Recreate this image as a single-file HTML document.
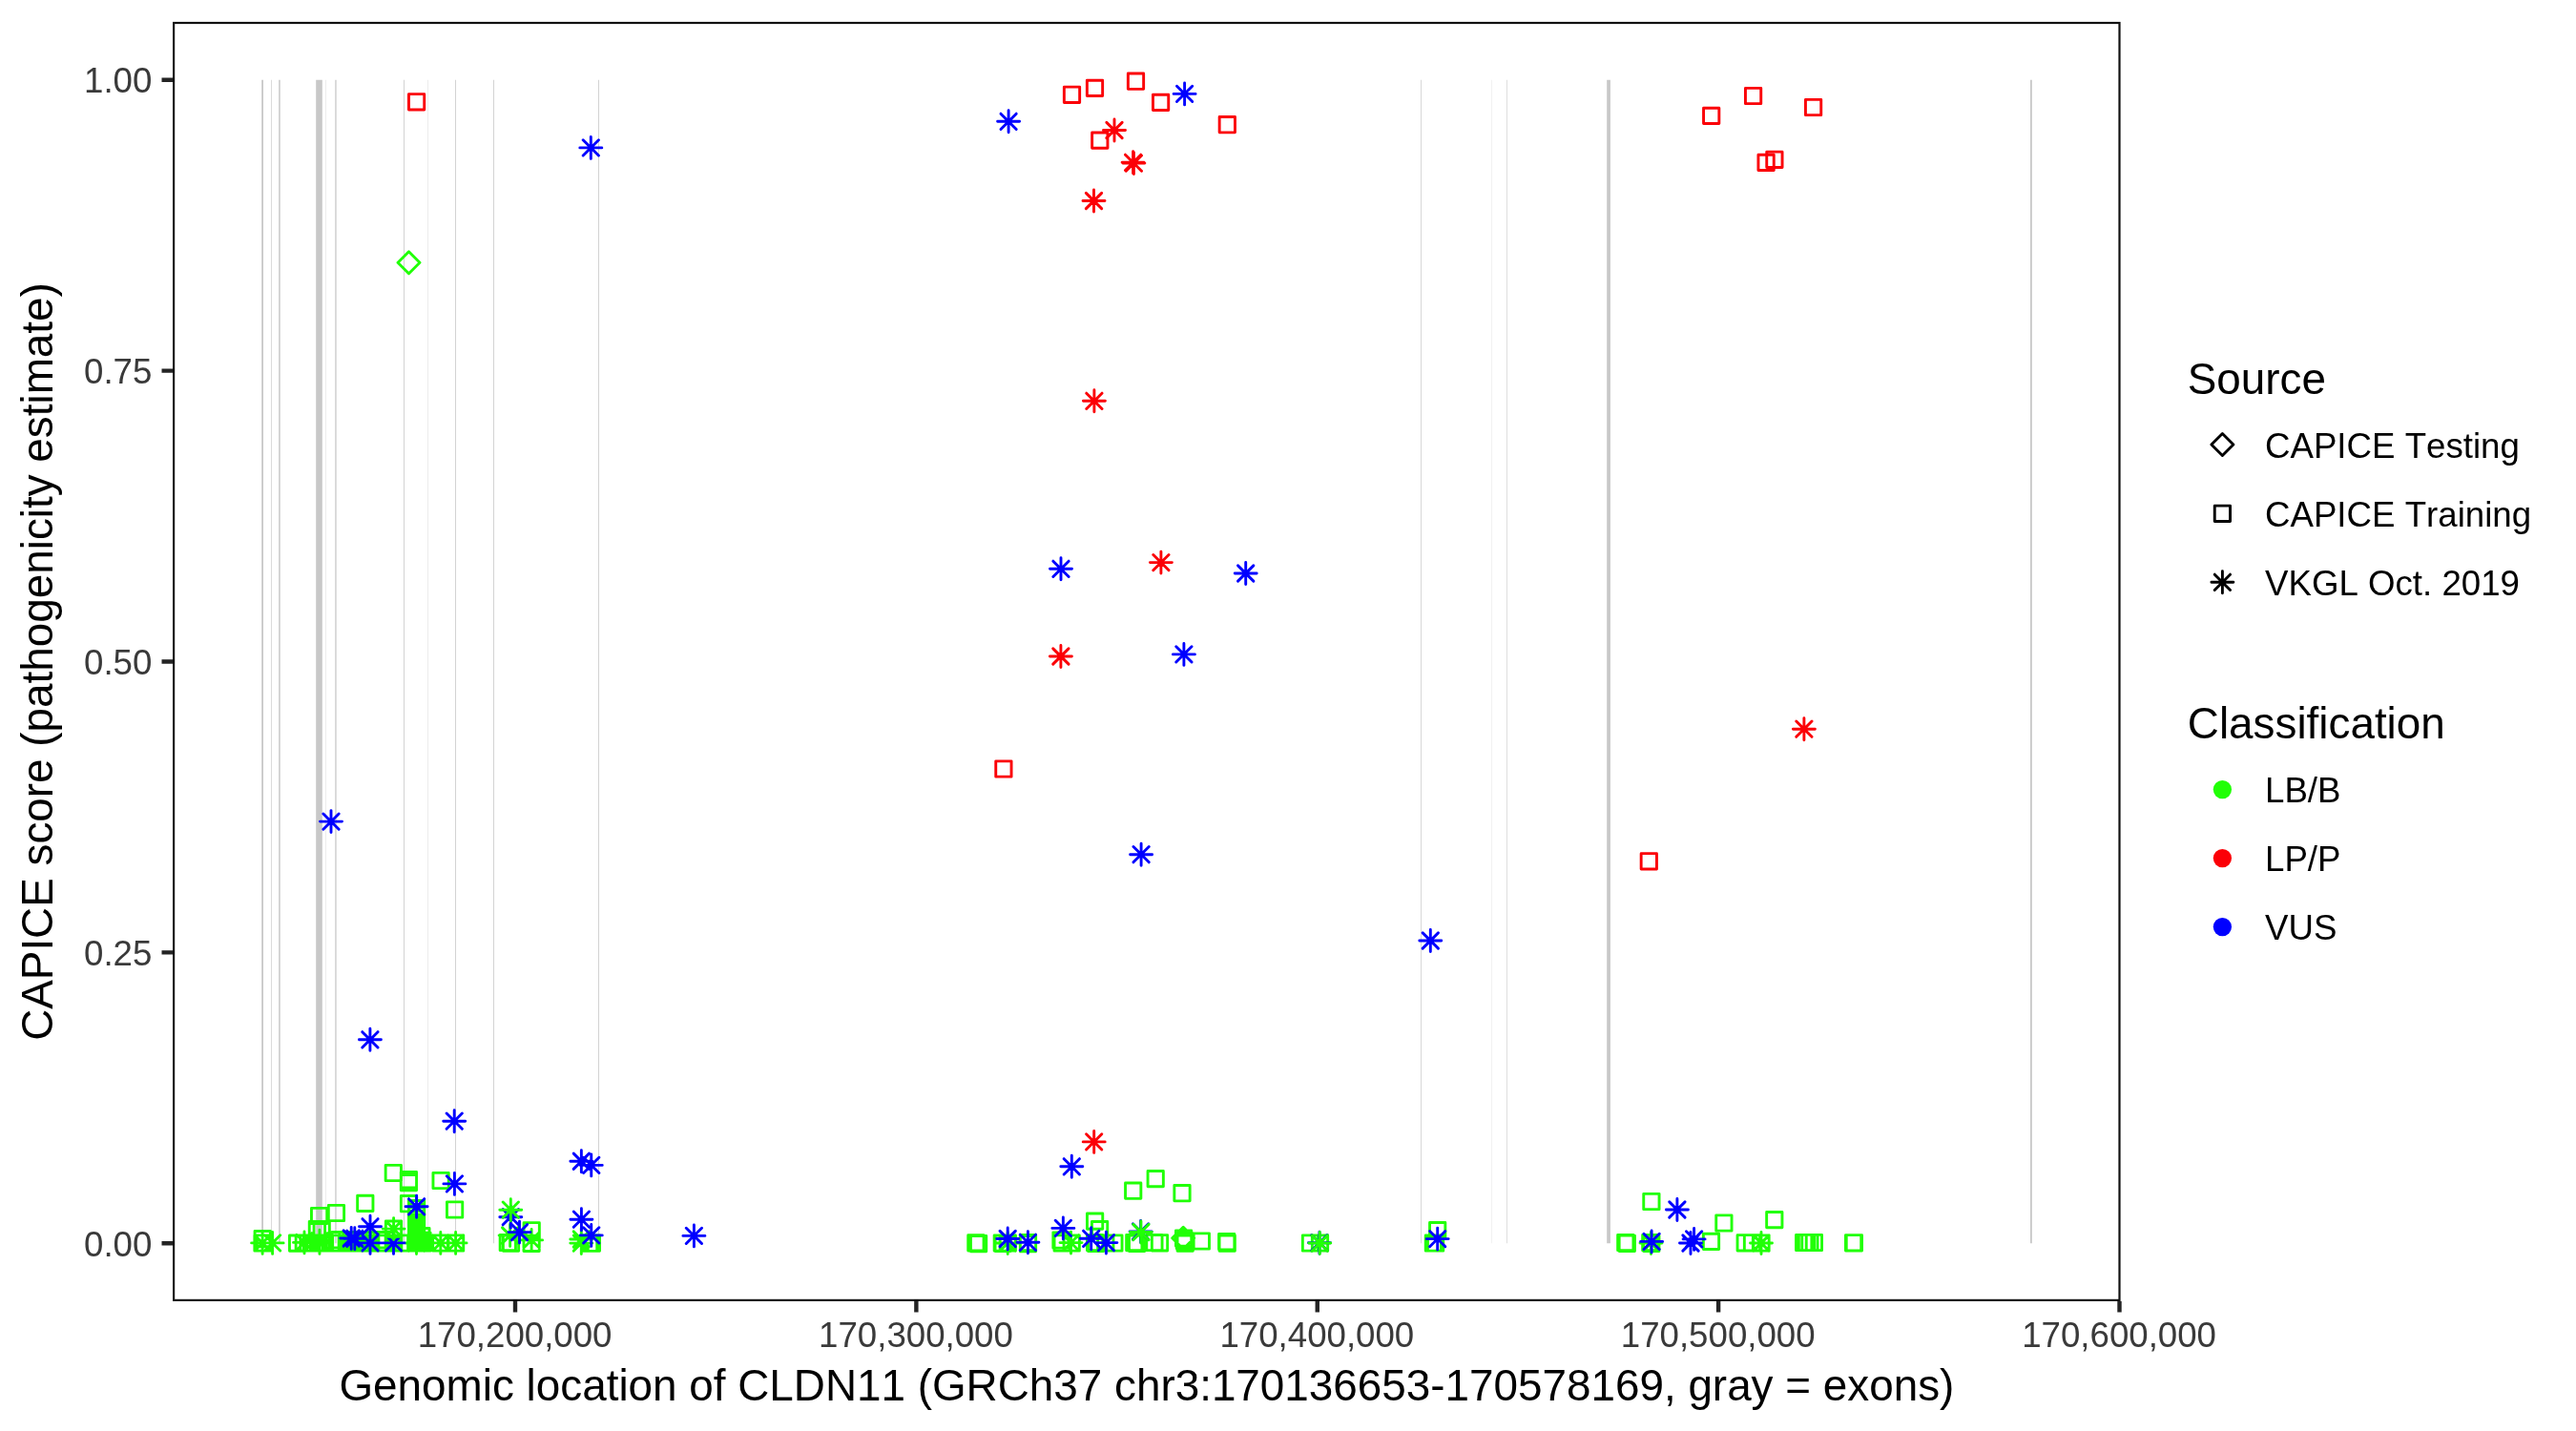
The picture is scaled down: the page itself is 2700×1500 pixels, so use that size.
<!DOCTYPE html>
<html><head><meta charset="utf-8"><title>CAPICE CLDN11</title>
<style>html,body{margin:0;padding:0;background:#fff}svg{display:block}#w{will-change:transform;width:2700px;height:1500px}text{font-family:"Liberation Sans",sans-serif;font-kerning:none}.at{font-size:36.67px;fill:#3a3a3a}.lt{font-size:36.67px;fill:#000}.ti{font-size:45.83px;fill:#000}.p{fill:none;stroke-width:2.9;stroke-linecap:round;stroke-linejoin:round}</style></head><body><div id="w">
<svg width="2700" height="1500" viewBox="0 0 2700 1500">
<rect x="0" y="0" width="2700" height="1500" fill="#ffffff"/>
<g>
<rect x="274.2" y="83.75" width="1.8" height="1219.5" fill="#c8c8c8" fill-opacity="1"/>
<rect x="284.2" y="83.75" width="0.65" height="1219.5" fill="#c8c8c8" fill-opacity="1"/>
<rect x="292.2" y="83.75" width="1.5" height="1219.5" fill="#c8c8c8" fill-opacity="1"/>
<rect x="331.2" y="83.75" width="6.6" height="1219.5" fill="#c8c8c8" fill-opacity="1"/>
<rect x="341.4" y="83.75" width="0.35" height="1219.5" fill="#c8c8c8" fill-opacity="1"/>
<rect x="351.3" y="83.75" width="1.3" height="1219.5" fill="#c8c8c8" fill-opacity="1"/>
<rect x="423.15" y="83.75" width="0.8" height="1219.5" fill="#c8c8c8" fill-opacity="1"/>
<rect x="448.4" y="83.75" width="0.35" height="1219.5" fill="#c8c8c8" fill-opacity="1"/>
<rect x="477.1" y="83.75" width="0.8" height="1219.5" fill="#c8c8c8" fill-opacity="1"/>
<rect x="517.15" y="83.75" width="0.8" height="1219.5" fill="#c8c8c8" fill-opacity="1"/>
<rect x="627.1" y="83.75" width="0.8" height="1219.5" fill="#c8c8c8" fill-opacity="1"/>
<rect x="1489.15" y="83.75" width="0.7" height="1219.5" fill="#c8c8c8" fill-opacity="1"/>
<rect x="1563.25" y="83.75" width="0.25" height="1219.5" fill="#c8c8c8" fill-opacity="1"/>
<rect x="1579.1" y="83.75" width="0.6" height="1219.5" fill="#c8c8c8" fill-opacity="1"/>
<rect x="1684.2" y="83.75" width="3.7" height="1219.5" fill="#c8c8c8" fill-opacity="1"/>
<rect x="2128" y="83.75" width="1.8" height="1219.5" fill="#c8c8c8" fill-opacity="1"/>
</g>
<g class="p">
<path stroke="#21ff06" d="M267.05 1290.45h16.3v16.3h-16.3zM266.85 1294.85h16.3v16.3h-16.3zM269.35 1294.85h16.3v16.3h-16.3zM263.6 1302.9h23M275.1 1291.4v23M266.96 1294.76l16.28 16.28M266.96 1311.04l16.28 -16.28M274.1 1302.9h23M285.6 1291.4v23M277.46 1294.76l16.28 16.28M277.46 1311.04l16.28 -16.28M303.45 1294.95h16.3v16.3h-16.3zM310.15 1294.85h16.3v16.3h-16.3zM307.5 1302.4h23M319 1290.9v23M310.86 1294.26l16.28 16.28M310.86 1310.54l16.28 -16.28M314.85 1294.85h16.3v16.3h-16.3zM318.35 1294.85h16.3v16.3h-16.3zM321.85 1294.85h16.3v16.3h-16.3zM325.35 1294.85h16.3v16.3h-16.3zM328.85 1294.85h16.3v16.3h-16.3zM332.35 1294.85h16.3v16.3h-16.3zM338.85 1294.85h16.3v16.3h-16.3zM341.85 1294.85h16.3v16.3h-16.3zM344.85 1294.85h16.3v16.3h-16.3zM347.85 1294.85h16.3v16.3h-16.3zM355.85 1294.85h16.3v16.3h-16.3zM359.35 1294.85h16.3v16.3h-16.3zM362.85 1294.85h16.3v16.3h-16.3zM366.35 1294.85h16.3v16.3h-16.3zM369.85 1294.85h16.3v16.3h-16.3zM373.35 1294.85h16.3v16.3h-16.3zM376.85 1294.85h16.3v16.3h-16.3zM380.35 1294.85h16.3v16.3h-16.3zM387.85 1294.85h16.3v16.3h-16.3zM390.85 1294.85h16.3v16.3h-16.3zM393.85 1294.85h16.3v16.3h-16.3zM396.85 1294.85h16.3v16.3h-16.3zM404.35 1294.85h16.3v16.3h-16.3zM411.35 1294.85h16.3v16.3h-16.3zM414.35 1294.85h16.3v16.3h-16.3zM417.85 1294.85h16.3v16.3h-16.3zM420.85 1294.85h16.3v16.3h-16.3zM348.05 1291.55h16.3v16.3h-16.3zM355.85 1291.55h16.3v16.3h-16.3zM359.85 1291.55h16.3v16.3h-16.3zM363.85 1291.55h16.3v16.3h-16.3zM367.85 1291.55h16.3v16.3h-16.3zM371.85 1291.55h16.3v16.3h-16.3zM375.85 1291.55h16.3v16.3h-16.3zM379.85 1291.55h16.3v16.3h-16.3zM388.35 1291.55h16.3v16.3h-16.3zM396.85 1291.55h16.3v16.3h-16.3zM429.35 1292.15h16.3v16.3h-16.3zM432.35 1292.15h16.3v16.3h-16.3zM434.85 1292.15h16.3v16.3h-16.3zM431.85 1294.85h16.3v16.3h-16.3zM434.85 1294.85h16.3v16.3h-16.3zM323.45 1302.9h23M334.95 1291.4v23M326.81 1294.76l16.28 16.28M326.81 1311.04l16.28 -16.28M323.45 1300.8h23M334.95 1289.3v23M326.81 1292.66l16.28 16.28M326.81 1308.94l16.28 -16.28M324.25 1280.35h16.3v16.3h-16.3zM329.05 1280.35h16.3v16.3h-16.3zM326.45 1266.35h16.3v16.3h-16.3zM344.3 1263.35h16.3v16.3h-16.3zM374.65 1253.25h16.3v16.3h-16.3zM404.15 1221.35h16.3v16.3h-16.3zM420.25 1228.55h16.3v16.3h-16.3zM420.25 1231.45h16.3v16.3h-16.3zM453.95 1229.35h16.3v16.3h-16.3zM420.35 1253.55h16.3v16.3h-16.3zM428.45 1258.55h16.3v16.3h-16.3zM428.45 1262.35h16.3v16.3h-16.3zM428.45 1265.85h16.3v16.3h-16.3zM428.45 1269.35h16.3v16.3h-16.3zM428.45 1272.85h16.3v16.3h-16.3zM428.45 1276.35h16.3v16.3h-16.3zM428.45 1280.35h16.3v16.3h-16.3zM428.45 1282.85h16.3v16.3h-16.3zM428.45 1285.45h16.3v16.3h-16.3zM428.45 1287.65h16.3v16.3h-16.3zM428.45 1289.85h16.3v16.3h-16.3zM428.45 1292.35h16.3v16.3h-16.3zM428.45 1294.85h16.3v16.3h-16.3zM433.75 1287.45h16.3v16.3h-16.3zM425 1303h23M436.5 1291.5v23M428.36 1294.86l16.28 16.28M428.36 1311.14l16.28 -16.28M453.65 1294.85h16.3v16.3h-16.3zM469.45 1294.85h16.3v16.3h-16.3zM468.45 1259.85h16.3v16.3h-16.3zM450.3 1302.9h23M461.8 1291.4v23M453.66 1294.76l16.28 16.28M453.66 1311.04l16.28 -16.28M466.1 1302.9h23M477.6 1291.4v23M469.46 1294.76l16.28 16.28M469.46 1311.04l16.28 -16.28"/>
<path stroke="#0000ff" d="M356.7 1298h23M368.2 1286.5v23M360.06 1289.86l16.28 16.28M360.06 1306.14l16.28 -16.28M360.3 1298.3h23M371.8 1286.8v23M363.66 1290.16l16.28 16.28M363.66 1306.44l16.28 -16.28M376.5 1285.8h23M388 1274.3v23M379.86 1277.66l16.28 16.28M379.86 1293.94l16.28 -16.28M376.5 1302.9h23M388 1291.4v23M379.86 1294.76l16.28 16.28M379.86 1311.04l16.28 -16.28M401 1302.9h23M412.5 1291.4v23M404.36 1294.76l16.28 16.28M404.36 1311.04l16.28 -16.28"/>
<path stroke="#21ff06" d="M404.35 1279.95h16.3v16.3h-16.3zM401.1 1288.1h23M412.6 1276.6v23M404.46 1279.96l16.28 16.28M404.46 1296.24l16.28 -16.28"/>
<path stroke="#0000ff" d="M425.1 1264.8h23M436.6 1253.3v23M428.46 1256.66l16.28 16.28M428.46 1272.94l16.28 -16.28M464.9 1240.9h23M476.4 1229.4v23M468.26 1232.76l16.28 16.28M468.26 1249.04l16.28 -16.28"/>
<path stroke="#21ff06" d="M524.15 1294.35h16.3v16.3h-16.3zM527.35 1295.05h16.3v16.3h-16.3zM523.1 1295h23M534.6 1283.5v23M526.46 1286.86l16.28 16.28M526.46 1303.14l16.28 -16.28M548.95 1295.15h16.3v16.3h-16.3zM549.05 1281.65h16.3v16.3h-16.3zM545.6 1299.9h23M557.1 1288.4v23M548.96 1291.76l16.28 16.28M548.96 1308.04l16.28 -16.28"/>
<path stroke="#0000ff" d="M523.8 1275.7h23M535.3 1264.2v23M527.16 1267.56l16.28 16.28M527.16 1283.84l16.28 -16.28"/>
<path stroke="#21ff06" d="M523.8 1268.2h23M535.3 1256.7v23M527.16 1260.06l16.28 16.28M527.16 1276.34l16.28 -16.28"/>
<path stroke="#0000ff" d="M533 1291.6h23M544.5 1280.1v23M536.36 1283.46l16.28 16.28M536.36 1299.74l16.28 -16.28"/>
<path stroke="#21ff06" d="M597.8 1299h23M609.3 1287.5v23M601.16 1290.86l16.28 16.28M601.16 1307.14l16.28 -16.28M597.8 1303.1h23M609.3 1291.6v23M601.16 1294.96l16.28 16.28M601.16 1311.24l16.28 -16.28M612.25 1295.05h16.3v16.3h-16.3zM609.45 1295.05h16.3v16.3h-16.3z"/>
<path stroke="#0000ff" d="M597.9 1278.2h23M609.4 1266.7v23M601.26 1270.06l16.28 16.28M601.26 1286.34l16.28 -16.28M608.25 1294.9h23M619.75 1283.4v23M611.61 1286.76l16.28 16.28M611.61 1303.04l16.28 -16.28M715.9 1295.4h23M727.4 1283.9v23M719.26 1287.26l16.28 16.28M719.26 1303.54l16.28 -16.28M597.85 1217.25h23M609.35 1205.75v23M601.21 1209.11l16.28 16.28M601.21 1225.39l16.28 -16.28M608.25 1221.4h23M619.75 1209.9v23M611.61 1213.26l16.28 16.28M611.61 1229.54l16.28 -16.28"/>
<path stroke="#fb0007" d="M428.45 98.65h16.3v16.3h-16.3z"/>
<path stroke="#0000ff" d="M607.8 154.9h23M619.3 143.4v23M611.16 146.76l16.28 16.28M611.16 163.04l16.28 -16.28M335.5 861.1h23M347 849.6v23M338.86 852.96l16.28 16.28M338.86 869.24l16.28 -16.28M376.4 1089.8h23M387.9 1078.3v23M379.76 1081.66l16.28 16.28M379.76 1097.94l16.28 -16.28M464.7 1175.2h23M476.2 1163.7v23M468.06 1167.06l16.28 16.28M468.06 1183.34l16.28 -16.28"/>
<path stroke="#21ff06" d="M417 275.3l11.5 -11.5l11.5 11.5l-11.5 11.5zM1014.75 1294.65h16.3v16.3h-16.3zM1017.45 1295.45h16.3v16.3h-16.3zM1042.15 1294.85h16.3v16.3h-16.3zM1043.05 1295.15h16.3v16.3h-16.3zM1048.15 1294.85h16.3v16.3h-16.3zM1069.35 1294.45h16.3v16.3h-16.3zM1069.35 1295.55h16.3v16.3h-16.3zM1103.85 1291.85h16.3v16.3h-16.3zM1105.05 1294.85h16.3v16.3h-16.3zM1115.05 1294.85h16.3v16.3h-16.3zM1139.45 1294.45h16.3v16.3h-16.3zM1140.45 1295.25h16.3v16.3h-16.3zM1150.65 1294.85h16.3v16.3h-16.3zM1159.75 1294.85h16.3v16.3h-16.3zM1180.65 1294.45h16.3v16.3h-16.3zM1183.45 1295.15h16.3v16.3h-16.3zM1201.75 1294.35h16.3v16.3h-16.3zM1207.35 1294.65h16.3v16.3h-16.3zM1044.7 1303h23M1056.2 1291.5v23M1048.06 1294.86l16.28 16.28M1048.06 1311.14l16.28 -16.28M1111 1302.6h23M1122.5 1291.1v23M1114.36 1294.46l16.28 16.28M1114.36 1310.74l16.28 -16.28M1228.7 1297.8l11.5 -11.5l11.5 11.5l-11.5 11.5zM1232.45 1289.85h16.3v16.3h-16.3zM1233.25 1292.45h16.3v16.3h-16.3zM1234.05 1295.05h16.3v16.3h-16.3zM1251.15 1292.85h16.3v16.3h-16.3zM1277.55 1293.55h16.3v16.3h-16.3zM1278.05 1295.05h16.3v16.3h-16.3zM1365.35 1294.85h16.3v16.3h-16.3zM1375.35 1294.85h16.3v16.3h-16.3zM1179.55 1240.05h16.3v16.3h-16.3zM1203.05 1227.5h16.3v16.3h-16.3zM1230.85 1242.55h16.3v16.3h-16.3zM1139.45 1271.95h16.3v16.3h-16.3zM1144.45 1280.45h16.3v16.3h-16.3z"/>
<path stroke="#0000ff" d="M1184.1 1291h23M1195.6 1279.5v23M1187.46 1282.86l16.28 16.28M1187.46 1299.14l16.28 -16.28M1371.5 1302.7h23M1383 1291.2v23M1374.86 1294.56l16.28 16.28M1374.86 1310.84l16.28 -16.28"/>
<path stroke="#21ff06" d="M1184.4 1291.5h23M1195.9 1280v23M1187.76 1283.36l16.28 16.28M1187.76 1299.64l16.28 -16.28M1371.8 1303h23M1383.3 1291.5v23M1375.16 1294.86l16.28 16.28M1375.16 1311.14l16.28 -16.28"/>
<path stroke="#0000ff" d="M1102.85 1287.4h23M1114.35 1275.9v23M1106.21 1279.26l16.28 16.28M1106.21 1295.54l16.28 -16.28M1044.7 1298.5h23M1056.2 1287v23M1048.06 1290.36l16.28 16.28M1048.06 1306.64l16.28 -16.28M1065.9 1302.3h23M1077.4 1290.8v23M1069.26 1294.16l16.28 16.28M1069.26 1310.44l16.28 -16.28M1132.2 1298.3h23M1143.7 1286.8v23M1135.56 1290.16l16.28 16.28M1135.56 1306.44l16.28 -16.28M1147.9 1302.6h23M1159.4 1291.1v23M1151.26 1294.46l16.28 16.28M1151.26 1310.74l16.28 -16.28M1111.8 1222.8h23M1123.3 1211.3v23M1115.16 1214.66l16.28 16.28M1115.16 1230.94l16.28 -16.28"/>
<path stroke="#fb0007" d="M1135.2 1196.9h23M1146.7 1185.4v23M1138.56 1188.76l16.28 16.28M1138.56 1205.04l16.28 -16.28"/>
<path stroke="#0000ff" d="M1045.6 127.3h23M1057.1 115.8v23M1048.96 119.16l16.28 16.28M1048.96 135.44l16.28 -16.28M1230.1 98.4h23M1241.6 86.9v23M1233.46 90.26l16.28 16.28M1233.46 106.54l16.28 -16.28"/>
<path stroke="#fb0007" d="M1115.35 91.15h16.3v16.3h-16.3zM1139.35 84.25h16.3v16.3h-16.3zM1182.35 77.05h16.3v16.3h-16.3zM1208.45 99.25h16.3v16.3h-16.3zM1278.15 122.55h16.3v16.3h-16.3zM1144.65 138.95h16.3v16.3h-16.3zM1156.5 136.5h23M1168 125v23M1159.86 128.36l16.28 16.28M1159.86 144.64l16.28 -16.28M1176.1 170.3h23M1187.6 158.8v23M1179.46 162.16l16.28 16.28M1179.46 178.44l16.28 -16.28M1176.9 171.1h23M1188.4 159.6v23M1180.26 162.96l16.28 16.28M1180.26 179.24l16.28 -16.28M1135 210.5h23M1146.5 199v23M1138.36 202.36l16.28 16.28M1138.36 218.64l16.28 -16.28M1135.4 420.3h23M1146.9 408.8v23M1138.76 412.16l16.28 16.28M1138.76 428.44l16.28 -16.28M1205.4 589.6h23M1216.9 578.1v23M1208.76 581.46l16.28 16.28M1208.76 597.74l16.28 -16.28M1100.4 688h23M1111.9 676.5v23M1103.76 679.86l16.28 16.28M1103.76 696.14l16.28 -16.28"/>
<path stroke="#0000ff" d="M1100.5 596.3h23M1112 584.8v23M1103.86 588.16l16.28 16.28M1103.86 604.44l16.28 -16.28M1294.2 601h23M1305.7 589.5v23M1297.56 592.86l16.28 16.28M1297.56 609.14l16.28 -16.28M1229.4 685.9h23M1240.9 674.4v23M1232.76 677.76l16.28 16.28M1232.76 694.04l16.28 -16.28M1184.6 895.7h23M1196.1 884.2v23M1187.96 887.56l16.28 16.28M1187.96 903.84l16.28 -16.28M1487.8 986h23M1499.3 974.5v23M1491.16 977.86l16.28 16.28M1491.16 994.14l16.28 -16.28"/>
<path stroke="#fb0007" d="M1043.75 797.85h16.3v16.3h-16.3z"/>
<path stroke="#21ff06" d="M1498.55 1281.45h16.3v16.3h-16.3zM1494.25 1294.85h16.3v16.3h-16.3zM1496.45 1294.85h16.3v16.3h-16.3z"/>
<path stroke="#0000ff" d="M1495.2 1298.6h23M1506.7 1287.1v23M1498.56 1290.46l16.28 16.28M1498.56 1306.74l16.28 -16.28"/>
<path stroke="#21ff06" d="M1722.75 1251.35h16.3v16.3h-16.3zM1798.75 1273.85h16.3v16.3h-16.3zM1851.65 1270.45h16.3v16.3h-16.3zM1695.65 1294.35h16.3v16.3h-16.3zM1697.15 1295.15h16.3v16.3h-16.3zM1721.65 1294.45h16.3v16.3h-16.3zM1722.65 1295.25h16.3v16.3h-16.3zM1785.35 1293.25h16.3v16.3h-16.3zM1821.05 1294.65h16.3v16.3h-16.3zM1828.35 1294.65h16.3v16.3h-16.3zM1837.85 1294.85h16.3v16.3h-16.3zM1882.55 1294.35h16.3v16.3h-16.3zM1885.35 1294.35h16.3v16.3h-16.3zM1888.75 1294.35h16.3v16.3h-16.3zM1893.25 1294.35h16.3v16.3h-16.3zM1934.45 1294.65h16.3v16.3h-16.3zM1935.25 1294.65h16.3v16.3h-16.3zM1719 1303h23M1730.5 1291.5v23M1722.36 1294.86l16.28 16.28M1722.36 1311.14l16.28 -16.28M1834.5 1303h23M1846 1291.5v23M1837.86 1294.86l16.28 16.28M1837.86 1311.14l16.28 -16.28"/>
<path stroke="#0000ff" d="M1719.6 1301.4h23M1731.1 1289.9v23M1722.96 1293.26l16.28 16.28M1722.96 1309.54l16.28 -16.28M1760.5 1303h23M1772 1291.5v23M1763.86 1294.86l16.28 16.28M1763.86 1311.14l16.28 -16.28M1764.1 1298.9h23M1775.6 1287.4v23M1767.46 1290.76l16.28 16.28M1767.46 1307.04l16.28 -16.28M1746.4 1268h23M1757.9 1256.5v23M1749.76 1259.86l16.28 16.28M1749.76 1276.14l16.28 -16.28"/>
<path stroke="#fb0007" d="M1785.55 113.25h16.3v16.3h-16.3zM1829.45 92.35h16.3v16.3h-16.3zM1892.45 104.35h16.3v16.3h-16.3zM1842.95 162.25h16.3v16.3h-16.3zM1851.75 159.15h16.3v16.3h-16.3zM1720.15 894.65h16.3v16.3h-16.3zM1879.4 764.2h23M1890.9 752.7v23M1882.76 756.06l16.28 16.28M1882.76 772.34l16.28 -16.28"/>
</g>
<rect x="182.1" y="24" width="2039.4" height="1338.9" fill="none" stroke="#111111" stroke-width="2.2"/>
<path d="M169.5 1303.25H181M169.5 998.38H181M169.5 693.5H181M169.5 388.62H181M169.5 83.75H181M540 1364V1375.5M960.38 1364V1375.5M1380.75 1364V1375.5M1801.12 1364V1375.5M2221.5 1364V1375.5" fill="none" stroke="#242424" stroke-width="4.4"/>
<text class="at" text-anchor="end" x="159.4" y="1316.95">0.00</text>
<text class="at" text-anchor="end" x="159.4" y="1012.08">0.25</text>
<text class="at" text-anchor="end" x="159.4" y="707.2">0.50</text>
<text class="at" text-anchor="end" x="159.4" y="402.32">0.75</text>
<text class="at" text-anchor="end" x="159.4" y="97.45">1.00</text>
<text class="at" text-anchor="middle" x="539.6" y="1412.1">170,200,000</text>
<text class="at" text-anchor="middle" x="959.98" y="1412.1">170,300,000</text>
<text class="at" text-anchor="middle" x="1380.35" y="1412.1">170,400,000</text>
<text class="at" text-anchor="middle" x="1800.72" y="1412.1">170,500,000</text>
<text class="at" text-anchor="middle" x="2221.1" y="1412.1">170,600,000</text>
<text class="ti" text-anchor="middle" x="1201.9" y="1467.5">Genomic location of CLDN11 (GRCh37 chr3:170136653-170578169, gray = exons)</text>
<text class="ti" text-anchor="middle" transform="translate(55 693.5) rotate(-90)">CAPICE score (pathogenicity estimate)</text>
<text class="ti" x="2292.8" y="412.5">Source</text>
<g class="p"><path stroke="#000" d="M2317.9 466l11.5 -11.5l11.5 11.5l-11.5 11.5zM2321.25 530.15h16.3v16.3h-16.3zM2317.9 610.3h23M2329.4 598.8v23M2321.26 602.16l16.28 16.28M2321.26 618.44l16.28 -16.28"/></g>
<text class="lt" x="2374.0" y="480.2">CAPICE Testing</text>
<text class="lt" x="2374.0" y="552">CAPICE Training</text>
<text class="lt" x="2374.0" y="623.6">VKGL Oct. 2019</text>
<text class="ti" x="2292.8" y="774.1">Classification</text>
<circle cx="2329.4" cy="827.6" r="9.65" fill="#21ff06"/>
<circle cx="2329.4" cy="899.6" r="9.65" fill="#fb0007"/>
<circle cx="2329.4" cy="971.6" r="9.65" fill="#0000ff"/>
<text class="lt" x="2374.0" y="841">LB/B</text>
<text class="lt" x="2374.0" y="913">LP/P</text>
<text class="lt" x="2374.0" y="984.9">VUS</text>
</svg></div></body></html>
